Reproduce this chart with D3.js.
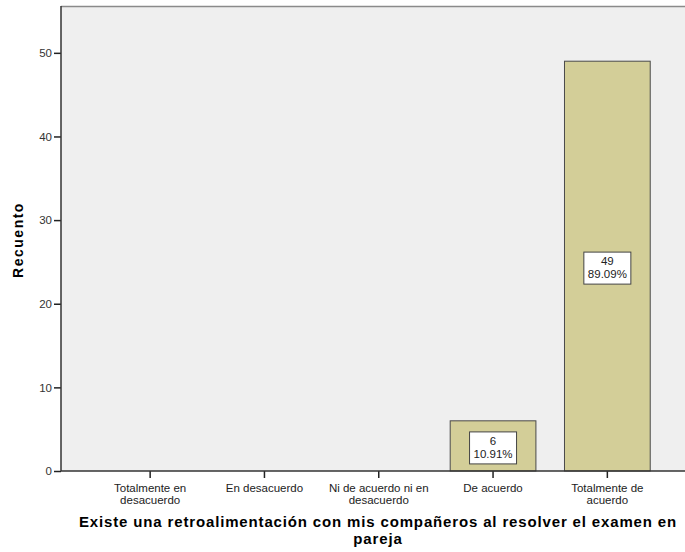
<!DOCTYPE html>
<html>
<head>
<meta charset="utf-8">
<script src="https://cdn.jsdelivr.net/npm/d3@7"></script>
<style>
  body { margin: 0; background: #fff; }
  text { font-family: "Liberation Sans", Arial, sans-serif; }
</style>
</head>
<body>
<script>
// categorias y recuentos
const categories = [
  ["Totalmente en", "desacuerdo"],
  ["En desacuerdo"],
  ["Ni de acuerdo ni en", "desacuerdo"],
  ["De acuerdo"],
  ["Totalmente de", "acuerdo"]
];
const counts = [0, 0, 0, 6, 49];
const percents = ["", "", "", "10.91%", "89.09%"];
const yTicks = [0, 10, 20, 30, 40, 50];

const width = 685, height = 552;
const margin = { top: 6, right: 0, bottom: 81, left: 61 };

const svg = d3.select("body").append("svg")
  .attr("width", width)
  .attr("height", height);

const x = d3.scaleBand()
  .domain(d3.range(categories.length))
  .range([93, 664.5])
  .paddingInner(0.25)
  .paddingOuter(0.125);

const y = d3.scaleLinear()
  .domain([0, 55.6])
  .range([height - margin.bottom, margin.top]);

// fondo del area
svg.append("rect")
  .attr("x", margin.left)
  .attr("y", margin.top)
  .attr("width", width - margin.left)
  .attr("height", height - margin.bottom - margin.top)
  .attr("fill", "#efefef");

svg.append("line")
  .attr("x1", margin.left).attr("x2", width)
  .attr("y1", margin.top + 0.5).attr("y2", margin.top + 0.5)
  .attr("stroke", "#8a8a8a").attr("stroke-width", 1.5);

// barras
const data = counts.map((c, i) => ({ i, c, p: percents[i] })).filter(d => d.c > 0);

svg.selectAll("rect.bar")
  .data(data)
  .enter().append("rect")
  .attr("class", "bar")
  .attr("x", d => x(d.i))
  .attr("width", x.bandwidth())
  .attr("y", d => y(d.c))
  .attr("height", d => y(0) - y(d.c))
  .attr("fill", "#d3ce98")
  .attr("stroke", "#4a4a4a")
  .attr("stroke-width", 1);

// etiquetas de valor
const lab = svg.selectAll("g.lab")
  .data(data)
  .enter().append("g")
  .attr("class", "lab")
  .attr("transform", d => `translate(${x(d.i) + x.bandwidth() / 2},${(y(d.c) + y(0)) / 2 + 2})`);

lab.append("rect")
  .attr("x", -23.5).attr("y", -16)
  .attr("width", 47).attr("height", 32)
  .attr("fill", "#fff")
  .attr("stroke", "#444")
  .attr("stroke-width", 1);

lab.append("text")
  .attr("text-anchor", "middle")
  .attr("y", -3)
  .attr("font-size", 11.5)
  .attr("fill", "#222")
  .text(d => d.c);

lab.append("text")
  .attr("text-anchor", "middle")
  .attr("y", 10)
  .attr("font-size", 11.5)
  .attr("fill", "#222")
  .text(d => d.p);

// eje y
const yAxis = svg.append("g")
  .attr("transform", `translate(${margin.left},0)`)
  .call(d3.axisLeft(y).tickValues(yTicks).tickSize(7).tickPadding(2));
yAxis.select(".domain").remove();
yAxis.selectAll(".tick line").attr("stroke", "#222").attr("stroke-width", 1.5);
yAxis.selectAll(".tick text").attr("font-size", 11.5).attr("fill", "#333")
  .attr("font-family", "Liberation Sans, Arial, sans-serif");

svg.append("line")
  .attr("x1", margin.left).attr("x2", margin.left)
  .attr("y1", margin.top).attr("y2", y(0))
  .attr("stroke", "#333").attr("stroke-width", 1.5);

// eje x
const xAxis = svg.append("g")
  .attr("transform", `translate(0,${y(0)})`)
  .call(d3.axisBottom(x).tickSize(7).tickFormat(""));
xAxis.select(".domain").remove();
xAxis.selectAll(".tick line").attr("stroke", "#222").attr("stroke-width", 1.5);

svg.append("line")
  .attr("x1", margin.left).attr("x2", width)
  .attr("y1", y(0)).attr("y2", y(0))
  .attr("stroke", "#333").attr("stroke-width", 1.5);

svg.selectAll("text.cat")
  .data(categories)
  .enter().append("text")
  .attr("class", "cat")
  .attr("text-anchor", "middle")
  .attr("font-size", 11.5)
  .attr("fill", "#222")
  .attr("x", (d, i) => x(i) + x.bandwidth() / 2)
  .attr("y", 492)
  .selectAll("tspan")
  .data(d => d)
  .enter().append("tspan")
  .attr("x", function () { return this.parentNode.getAttribute("x"); })
  .attr("dy", (d, j) => j === 0 ? 0 : 12)
  .text(d => d);

// titulos (fuente mas ancha en el original: se ajusta el espaciado)
const t1 = svg.append("text")
  .attr("text-anchor", "middle")
  .attr("font-size", 15)
  .attr("font-weight", "bold")
  .attr("fill", "#000")
  .attr("x", 378)
  .attr("y", 527)
  .text("Existe una retroalimentación con mis compañeros al resolver el examen en");

const title1 = t1.text();
const spacing = (598 - t1.node().getComputedTextLength()) / title1.length;
t1.attr("letter-spacing", spacing);

svg.append("text")
  .attr("text-anchor", "middle")
  .attr("font-size", 15)
  .attr("font-weight", "bold")
  .attr("letter-spacing", spacing)
  .attr("fill", "#000")
  .attr("x", 378)
  .attr("y", 544)
  .text("pareja");

svg.append("text")
  .attr("text-anchor", "middle")
  .attr("font-size", 14)
  .attr("font-weight", "bold")
  .attr("letter-spacing", 1.5)
  .attr("fill", "#000")
  .attr("transform", "translate(23,240) rotate(-90)")
  .text("Recuento");
</script>
</body>
</html>
